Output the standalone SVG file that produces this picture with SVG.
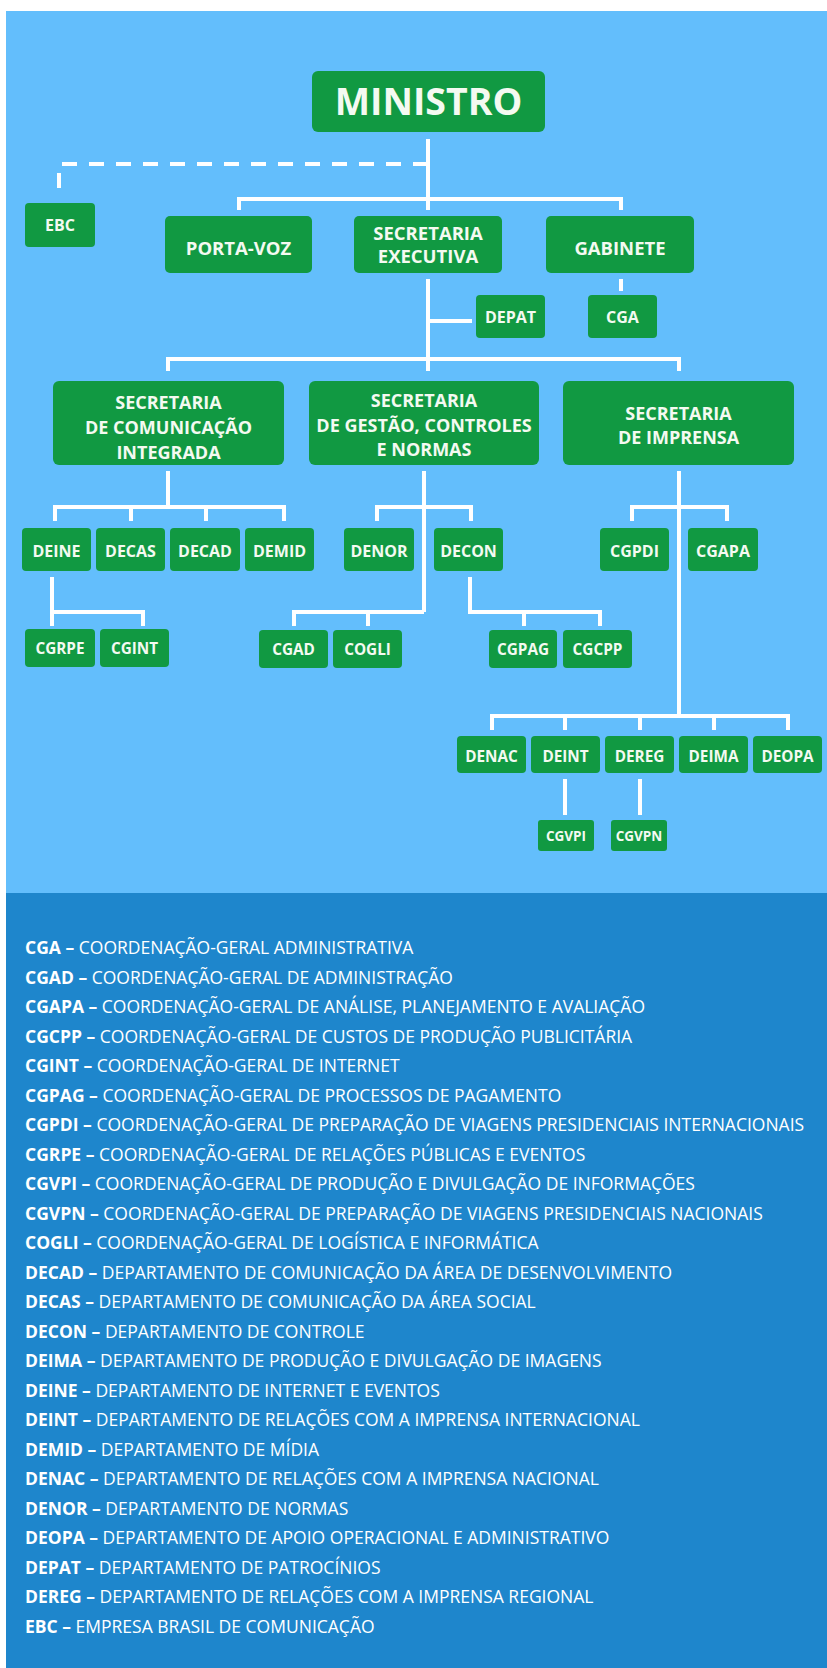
<svg xmlns="http://www.w3.org/2000/svg" width="827" height="1668" viewBox="0 0 827 1668">
  <style>
    .box { fill: #119942; }
    .lbl { font-family: "Open Sans", "Noto Sans", "DejaVu Sans", sans-serif; font-weight: bold; fill: #F4FAF1; text-anchor: middle; }
    .big { font-size: 37.5px; }
    .l18 { font-size: 18px; }
    .l17 { font-size: 18.5px; }
    .l16 { font-size: 16px; }
    .l15 { font-size: 15.3px; }
    .l12 { font-size: 13.5px; }
    .ln { fill: none; stroke: #FFFFFF; stroke-width: 4; }
    .dash { fill: none; stroke: #FFFFFF; stroke-width: 4; stroke-dasharray: 15 12; }
    .leg { font-family: "Open Sans", "Noto Sans", "DejaVu Sans", sans-serif; font-size: 17.5px; fill: #FFFFFF; }
    .leg tspan.k { font-weight: bold; }
  </style>

  <!-- backgrounds -->
  <rect x="6" y="11" width="821" height="882" fill="#63BEFC"/>
  <rect x="6" y="893" width="821" height="775" fill="#1E86CC"/>

  <!-- connectors -->
  <g id="connectors">
    <path class="dash" d="M428,164 H59 V197"/>
    <path class="ln" d="M428,139 V210"/>
    <path class="ln" d="M239,210 V199 H621 V210"/>
    <path class="ln" d="M428,279 V371"/>
    <path class="ln" d="M428,321 H472"/>
    <path class="ln" d="M621,279 V291"/>
    <path class="ln" d="M168,371 V359 H679 V371"/>
    <!-- Comunicação Integrada -->
    <path class="ln" d="M168,471 V507"/>
    <path class="ln" d="M55,521 V507 H284 V521"/>
    <path class="ln" d="M131,507 V521"/>
    <path class="ln" d="M206,507 V521"/>
    <path class="ln" d="M52,577 V626"/>
    <path class="ln" d="M52,612 H143 V626"/>
    <!-- Gestão, Controles e Normas -->
    <path class="ln" d="M424,471 V612"/>
    <path class="ln" d="M377,521 V507 H471 V521"/>
    <path class="ln" d="M424,612 H294 V626"/>
    <path class="ln" d="M368,612 V626"/>
    <path class="ln" d="M470,577 V612 H600 V626"/>
    <path class="ln" d="M524,612 V626"/>
    <!-- Imprensa -->
    <path class="ln" d="M679,471 V716"/>
    <path class="ln" d="M632,521 V507 H727 V521"/>
    <path class="ln" d="M492,730 V716 H788 V730"/>
    <path class="ln" d="M565,716 V730"/>
    <path class="ln" d="M640,716 V730"/>
    <path class="ln" d="M714,716 V730"/>
    <path class="ln" d="M565,779 V815"/>
    <path class="ln" d="M640,779 V815"/>
  </g>

  <!-- top level -->
  <g id="ministro"><rect class="box" x="312" y="71" width="233" height="61" rx="6"/><text class="lbl big" x="428.5" y="114.5">MINISTRO</text></g>
  <g id="ebc"><rect class="box" x="25" y="203" width="70" height="44" rx="4"/><text class="lbl l16" x="60" y="231">EBC</text></g>
  <g id="porta-voz"><rect class="box" x="165" y="216" width="147" height="57" rx="5"/><text class="lbl l17" x="238.5" y="255">PORTA-VOZ</text></g>
  <g id="sec-executiva"><rect class="box" x="354" y="216" width="148" height="57" rx="5"/><text class="lbl l17" x="428" y="239.5">SECRETARIA</text><text class="lbl l17" x="428" y="263">EXECUTIVA</text></g>
  <g id="gabinete"><rect class="box" x="546" y="216" width="148" height="57" rx="5"/><text class="lbl l17" x="620" y="255">GABINETE</text></g>
  <g id="depat"><rect class="box" x="476" y="295" width="69" height="43" rx="4"/><text class="lbl l16" x="510.5" y="323">DEPAT</text></g>
  <g id="cga"><rect class="box" x="588" y="295" width="69" height="43" rx="4"/><text class="lbl l16" x="622.5" y="323">CGA</text></g>

  <!-- secretarias -->
  <g id="sec-comunicacao"><rect class="box" x="53" y="381" width="231" height="84" rx="6"/><text class="lbl l18" x="168.5" y="408.5">SECRETARIA</text><text class="lbl l18" x="168.5" y="434">DE COMUNICAÇÃO</text><text class="lbl l18" x="168.5" y="459">INTEGRADA</text></g>
  <g id="sec-gestao"><rect class="box" x="309" y="381" width="230" height="84" rx="6"/><text class="lbl l18" x="424" y="406.5">SECRETARIA</text><text class="lbl l18" x="424" y="431.5">DE GESTÃO, CONTROLES</text><text class="lbl l18" x="424" y="456">E NORMAS</text></g>
  <g id="sec-imprensa"><rect class="box" x="563" y="381" width="231" height="84" rx="6"/><text class="lbl l18" x="678.5" y="420">SECRETARIA</text><text class="lbl l18" x="678.5" y="444">DE IMPRENSA</text></g>

  <!-- departamentos -->
  <g id="deine"><rect class="box" x="22" y="528" width="69" height="43" rx="4"/><text class="lbl l16" x="56.5" y="557">DEINE</text></g>
  <g id="decas"><rect class="box" x="96" y="528" width="69" height="43" rx="4"/><text class="lbl l16" x="130.5" y="557">DECAS</text></g>
  <g id="decad"><rect class="box" x="170" y="528" width="70" height="43" rx="4"/><text class="lbl l16" x="205" y="557">DECAD</text></g>
  <g id="demid"><rect class="box" x="245" y="528" width="69" height="43" rx="4"/><text class="lbl l16" x="279.5" y="557">DEMID</text></g>
  <g id="denor"><rect class="box" x="344" y="528" width="70" height="43" rx="4"/><text class="lbl l16" x="379" y="557">DENOR</text></g>
  <g id="decon"><rect class="box" x="434" y="528" width="69" height="43" rx="4"/><text class="lbl l16" x="468.5" y="557">DECON</text></g>
  <g id="cgpdi"><rect class="box" x="600" y="528" width="69" height="43" rx="4"/><text class="lbl l16" x="634.5" y="557">CGPDI</text></g>
  <g id="cgapa"><rect class="box" x="688" y="528" width="70" height="43" rx="4"/><text class="lbl l16" x="723" y="557">CGAPA</text></g>

  <!-- coordenações -->
  <g id="cgrpe"><rect class="box" x="25" y="629" width="70" height="38" rx="4"/><text class="lbl l15" x="60" y="654">CGRPE</text></g>
  <g id="cgint"><rect class="box" x="100" y="629" width="69" height="38" rx="4"/><text class="lbl l15" x="134.5" y="654">CGINT</text></g>
  <g id="cgad"><rect class="box" x="259" y="630" width="69" height="38" rx="4"/><text class="lbl l15" x="293.5" y="655">CGAD</text></g>
  <g id="cogli"><rect class="box" x="333" y="630" width="69" height="38" rx="4"/><text class="lbl l15" x="367.5" y="655">COGLI</text></g>
  <g id="cgpag"><rect class="box" x="489" y="630" width="68" height="38" rx="4"/><text class="lbl l15" x="523" y="655">CGPAG</text></g>
  <g id="cgcpp"><rect class="box" x="563" y="630" width="69" height="38" rx="4"/><text class="lbl l15" x="597.5" y="655">CGCPP</text></g>

  <g id="denac"><rect class="box" x="457" y="736" width="69" height="37" rx="4"/><text class="lbl l15" x="491.5" y="762">DENAC</text></g>
  <g id="deint"><rect class="box" x="531" y="736" width="69" height="37" rx="4"/><text class="lbl l15" x="565.5" y="762">DEINT</text></g>
  <g id="dereg"><rect class="box" x="605" y="736" width="69" height="37" rx="4"/><text class="lbl l15" x="639.5" y="762">DEREG</text></g>
  <g id="deima"><rect class="box" x="679" y="736" width="69" height="37" rx="4"/><text class="lbl l15" x="713.5" y="762">DEIMA</text></g>
  <g id="deopa"><rect class="box" x="753" y="736" width="69" height="37" rx="4"/><text class="lbl l15" x="787.5" y="762">DEOPA</text></g>
  <g id="cgvpi"><rect class="box" x="538" y="820" width="56" height="31" rx="3"/><text class="lbl l12" x="566" y="841">CGVPI</text></g>
  <g id="cgvpn"><rect class="box" x="611" y="820" width="56" height="31" rx="3"/><text class="lbl l12" x="639" y="841">CGVPN</text></g>

  <!-- legenda -->
  <g id="legenda" class="leg">
    <text x="25" y="954"><tspan class="k">CGA –</tspan> COORDENAÇÃO-GERAL ADMINISTRATIVA</text>
    <text x="25" y="983.5"><tspan class="k">CGAD –</tspan> COORDENAÇÃO-GERAL DE ADMINISTRAÇÃO</text>
    <text x="25" y="1013"><tspan class="k">CGAPA –</tspan> COORDENAÇÃO-GERAL DE ANÁLISE, PLANEJAMENTO E AVALIAÇÃO</text>
    <text x="25" y="1042.5"><tspan class="k">CGCPP –</tspan> COORDENAÇÃO-GERAL DE CUSTOS DE PRODUÇÃO PUBLICITÁRIA</text>
    <text x="25" y="1072"><tspan class="k">CGINT –</tspan> COORDENAÇÃO-GERAL DE INTERNET</text>
    <text x="25" y="1101.5"><tspan class="k">CGPAG –</tspan> COORDENAÇÃO-GERAL DE PROCESSOS DE PAGAMENTO</text>
    <text x="25" y="1131"><tspan class="k">CGPDI –</tspan> COORDENAÇÃO-GERAL DE PREPARAÇÃO DE VIAGENS PRESIDENCIAIS INTERNACIONAIS</text>
    <text x="25" y="1160.5"><tspan class="k">CGRPE –</tspan> COORDENAÇÃO-GERAL DE RELAÇÕES PÚBLICAS E EVENTOS</text>
    <text x="25" y="1190"><tspan class="k">CGVPI –</tspan> COORDENAÇÃO-GERAL DE PRODUÇÃO E DIVULGAÇÃO DE INFORMAÇÕES</text>
    <text x="25" y="1219.5"><tspan class="k">CGVPN –</tspan> COORDENAÇÃO-GERAL DE PREPARAÇÃO DE VIAGENS PRESIDENCIAIS NACIONAIS</text>
    <text x="25" y="1249"><tspan class="k">COGLI –</tspan> COORDENAÇÃO-GERAL DE LOGÍSTICA E INFORMÁTICA</text>
    <text x="25" y="1278.5"><tspan class="k">DECAD –</tspan> DEPARTAMENTO DE COMUNICAÇÃO DA ÁREA DE DESENVOLVIMENTO</text>
    <text x="25" y="1308"><tspan class="k">DECAS –</tspan> DEPARTAMENTO DE COMUNICAÇÃO DA ÁREA SOCIAL</text>
    <text x="25" y="1337.5"><tspan class="k">DECON –</tspan> DEPARTAMENTO DE CONTROLE</text>
    <text x="25" y="1367"><tspan class="k">DEIMA –</tspan> DEPARTAMENTO DE PRODUÇÃO E DIVULGAÇÃO DE IMAGENS</text>
    <text x="25" y="1396.5"><tspan class="k">DEINE –</tspan> DEPARTAMENTO DE INTERNET E EVENTOS</text>
    <text x="25" y="1426"><tspan class="k">DEINT –</tspan> DEPARTAMENTO DE RELAÇÕES COM A IMPRENSA INTERNACIONAL</text>
    <text x="25" y="1455.5"><tspan class="k">DEMID –</tspan> DEPARTAMENTO DE MÍDIA</text>
    <text x="25" y="1485"><tspan class="k">DENAC –</tspan> DEPARTAMENTO DE RELAÇÕES COM A IMPRENSA NACIONAL</text>
    <text x="25" y="1514.5"><tspan class="k">DENOR –</tspan> DEPARTAMENTO DE NORMAS</text>
    <text x="25" y="1544"><tspan class="k">DEOPA –</tspan> DEPARTAMENTO DE APOIO OPERACIONAL E ADMINISTRATIVO</text>
    <text x="25" y="1573.5"><tspan class="k">DEPAT –</tspan> DEPARTAMENTO DE PATROCÍNIOS</text>
    <text x="25" y="1603"><tspan class="k">DEREG –</tspan> DEPARTAMENTO DE RELAÇÕES COM A IMPRENSA REGIONAL</text>
    <text x="25" y="1632.5"><tspan class="k">EBC –</tspan> EMPRESA BRASIL DE COMUNICAÇÃO</text>
  </g>
</svg>
